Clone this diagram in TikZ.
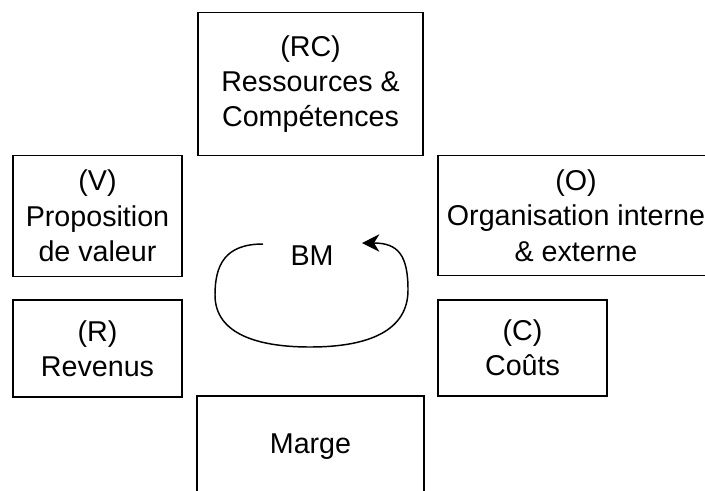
\documentclass[tikz,border=0pt]{standalone}
\usepackage{fontspec}
\setmainfont{Liberation Sans}
\usetikzlibrary{arrows.meta}

\tikzset{
  bloc/.style={draw, line width=1.2pt, align=center, inner sep=0pt,
    font=\fontsize{21.5}{26.5}\selectfont},
  boucle/.style={line width=1.1pt, -{Stealth[length=13pt,width=13pt,inset=4pt]}}
}

\begin{document}
\begin{tikzpicture}[x=0.75pt,y=0.75pt,yscale=-1,xscale=1]
\useasboundingbox (0,0) rectangle (705,490);
\clip (0,0) rectangle (705,490);

%Shape: Rectangle (RC)
\node [bloc, minimum width=168.75pt, minimum height=107.25pt] (rc) at (310.5,84) {(RC)\\Ressources \&\\Compétences};
%Shape: Rectangle (V)
\node [bloc, minimum width=126.75pt, minimum height=90.75pt] (v) at (97.5,216) {(V)\\Proposition\\de valeur};
%Shape: Rectangle (O)
\node [bloc, minimum width=207pt, minimum height=90pt] (o) at (576,215.5) {(O)\\Organisation interne\\\& externe};
%Shape: Rectangle (R)
\node [bloc, minimum width=126.75pt, minimum height=72.75pt] (r) at (97.5,348.5) {(R)\\Revenus};
%Shape: Rectangle (C)
\node [bloc, minimum width=126.75pt, minimum height=72pt] (c) at (522.5,348) {(C)\\Coûts};
%Shape: Rectangle (Marge)
\node [bloc, minimum width=170.25pt, minimum height=76.5pt] (marge) at (310.5,447) {Marge};

% Text Node
\node [font=\fontsize{21.5}{26.5}\selectfont, inner sep=0pt] (bm) at (312,256) {BM};

%Curve
\coordinate (depart) at (263,244);
\coordinate (arrivee) at (362,243);
\draw [boucle] (depart) .. controls (225,244) and (215,265) .. (215,295)
  .. controls (215,335) and (260,347) .. (310,347)
  .. controls (370,347) and (408,330) .. (408,290)
  .. controls (408,255) and (398,243) .. (arrivee);

\end{tikzpicture}
\end{document}
